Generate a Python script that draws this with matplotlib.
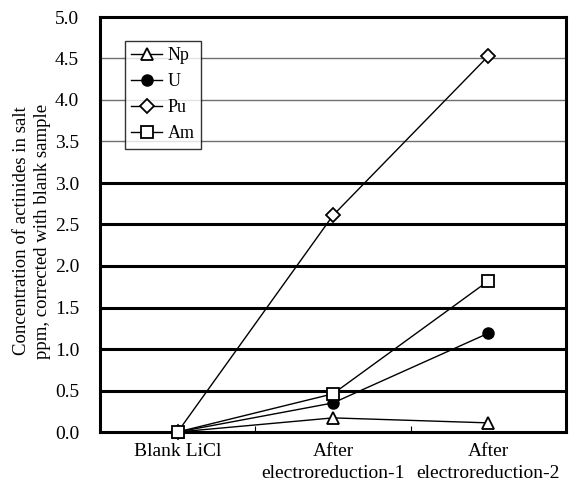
import matplotlib
matplotlib.use("Agg")
import matplotlib.pyplot as plt
import numpy as np

plt.rcParams['font.family'] = ['Liberation Serif', 'DejaVu Serif']

categories = ["Blank LiCl", "After\nelectroreduction-1", "After\nelectroreduction-2"]
np_vals = [0.0, 0.17, 0.11]
u_vals = [0.0, 0.35, 1.19]
pu_vals = [0.0, 2.61, 4.53]
am_vals = [0.0, 0.46, 1.82]
yticks = [0.0, 0.5, 1.0, 1.5, 2.0, 2.5, 3.0, 3.5, 4.0, 4.5, 5.0]

fig = plt.figure(figsize=(5.78, 4.90), dpi=100)
ax = fig.add_axes([100/578, 1-432/490, 466/578, 415/490])

x = np.arange(len(categories))
ax.set_xlim(-0.5, 2.5)
ax.set_ylim(0, 5.0)

# gridlines
for yv in yticks[1:-1]:
    if yv <= 3.0:
        ax.axhline(yv, color='black', lw=2.2, zorder=1)
    else:
        ax.axhline(yv, color='#707070', lw=1.0, zorder=1)

kw = dict(color='black', lw=1.0, markersize=8, zorder=3, clip_on=False)
ax.plot(x, np_vals, marker='^', mfc='white', mec='black', mew=1.3, label='Np', **kw)
ax.plot(x, u_vals, marker='o', mfc='black', mec='black', label='U', **kw)
ax.plot(x, pu_vals, marker='D', mfc='white', mec='black', mew=1.3, label='Pu', **{**kw, 'markersize': 7})
ax.plot(x, am_vals, marker='s', mfc='white', mec='black', mew=1.3, label='Am', **kw)

for s in ax.spines.values():
    s.set_linewidth(2.2)
    s.set_color('black')

ax.set_yticks(yticks)
ax.set_yticklabels([f"{v:.1f}" for v in yticks], fontsize=14)
ax.tick_params(axis='y', length=0, pad=15)
ax.set_xticks(x)
ax.set_xticklabels(categories, fontsize=14, linespacing=1.35)
ax.tick_params(axis='x', length=0, pad=8)
ax.set_xticks([0.5, 1.5], minor=True)
ax.tick_params(axis='x', which='minor', direction='in', length=4, width=0.8)

fig.text(32/578, 1-231/490, "Concentration of actinides in salt\nppm, corrected with blank sample",
         rotation=90, ha='center', va='center', fontsize=13.5, linespacing=1.25,
         multialignment='center')

leg = ax.legend(loc='upper left', bbox_to_anchor=(25/466, 1-24/415), fontsize=13,
                frameon=True, fancybox=False, handlelength=1.7, handletextpad=0.3,
                borderpad=0.35, labelspacing=0.5, borderaxespad=0)
leg.get_frame().set_edgecolor('black')
leg.get_frame().set_linewidth(1.0)

fig.savefig("out.png", dpi=100, facecolor='white')
